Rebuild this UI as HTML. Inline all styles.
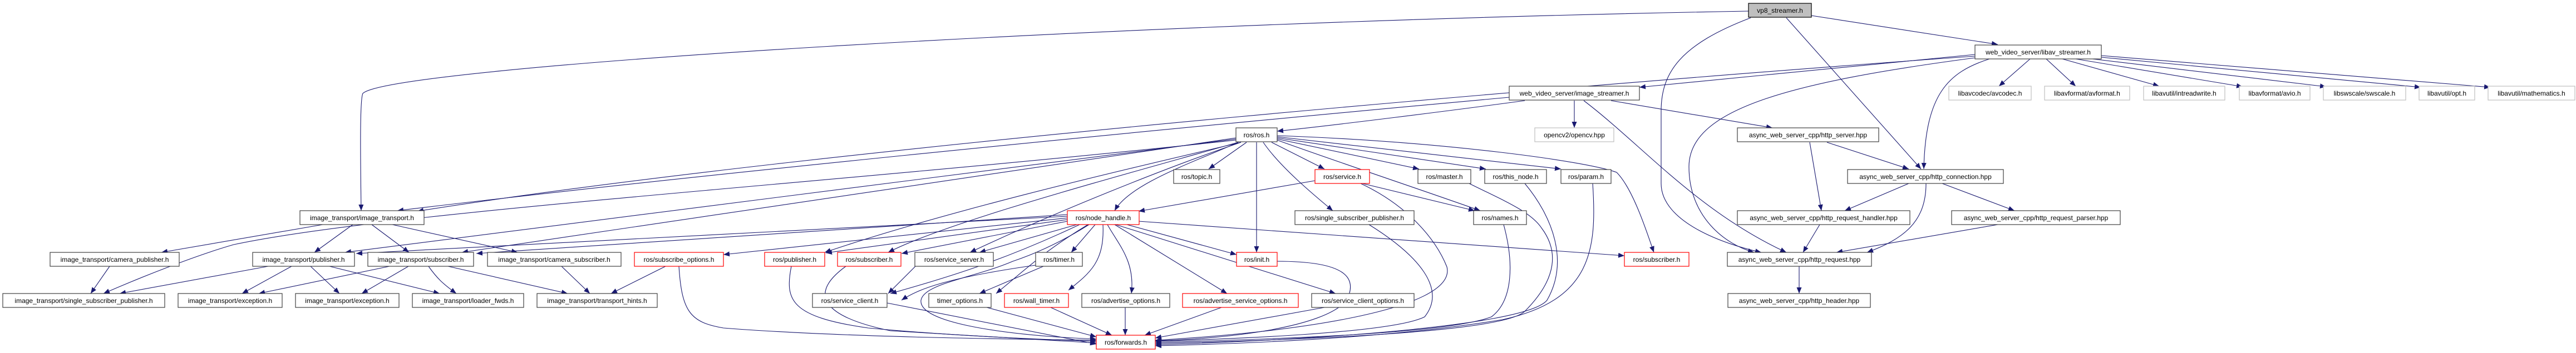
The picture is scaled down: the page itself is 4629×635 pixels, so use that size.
<!DOCTYPE html>
<html><head><meta charset="utf-8"><style>
html,body{margin:0;padding:0;background:#fff;}
svg{display:block;}
text{font-family:"Liberation Sans",Arial,sans-serif;font-size:12px;fill:#000;}
.e{fill:none;stroke:#191970;stroke-width:1.1;marker-end:url(#a);}
.n{fill:#fff;stroke:#404040;stroke-width:1.2;}
.r{fill:#fff;stroke:#ff0000;stroke-width:1.2;}
.g{fill:#fff;stroke:#bfbfbf;stroke-width:1.2;}
</style></head><body>
<svg width="4629" height="635" viewBox="0 0 4629 635" xmlns="http://www.w3.org/2000/svg">
<defs><marker id="a" markerUnits="userSpaceOnUse" markerWidth="12" markerHeight="9" refX="11" refY="4.5" orient="auto"><path d="M0,0 L11,4.5 L0,9 z" fill="#191970"/></marker></defs>
<g>
<!-- top edges -->
<path class="e" d="M3142,20 C2000,40 700,120 652,168 C646,180 648,300 649,379"/>
<path class="e" d="M3255,28 L3590,80"/>
<path class="e" d="M3210,32 L3452,304"/>
<path class="e" d="M3146,32 C3020,80 2985,130 2985,200 L2985,330 C2985,400 3100,440 3165,454"/>
<path class="e" d="M3549,98 L2946,157"/>
<path class="e" d="M3549,101 C3000,140 1500,260 750,380"/>
<path class="e" d="M3648,106 L3592,155"/>
<path class="e" d="M3677,106 L3730,155"/>
<path class="e" d="M3706,106 L3880,155"/>
<path class="e" d="M3730,106 L4030,156"/>
<path class="e" d="M3760,106 L4180,156"/>
<path class="e" d="M3776,103 L4350,157"/>
<path class="e" d="M3776,100 L4475,157"/>
<path class="e" d="M3575,106 C3500,130 3460,170 3457,304"/>
<path class="e" d="M3549,104 C3200,150 3035,200 3035,300 C3035,390 3100,440 3152,454"/>
<!-- image_streamer -->
<path class="e" d="M2829,181 L2829,230"/>
<path class="e" d="M2895,181 L3185,230"/>
<path class="e" d="M2846,181 C2950,260 3050,380 3210,454"/>
<path class="e" d="M2740,181 C2600,200 2400,225 2295,236"/>
<path class="e" d="M2712,175 C2000,240 1200,320 714,379"/>
<!-- async -->
<path class="e" d="M3283,256 L3430,304"/>
<path class="e" d="M3252,256 L3273,379"/>
<path class="e" d="M3430,330 L3315,379"/>
<path class="e" d="M3490,330 L3620,379"/>
<path class="e" d="M3461,330 C3461,400 3420,430 3355,454"/>
<path class="e" d="M3270,404 L3240,454"/>
<path class="e" d="M3590,404 L3300,454"/>
<path class="e" d="M3233,479 L3233,528"/>
<!-- ros.h -->
<path class="e" d="M2240,256 L2172,304"/>
<path class="e" d="M2225,256 C2150,290 2030,330 2003,379"/>
<path class="e" d="M2258,256 L2258,454"/>
<path class="e" d="M2285,256 L2380,304"/>
<path class="e" d="M2270,256 C2300,300 2360,350 2395,379"/>
<path class="e" d="M2295,250 L2550,304"/>
<path class="e" d="M2295,248 L2670,304"/>
<path class="e" d="M2295,246 L2805,304"/>
<path class="e" d="M2295,252 C2400,290 2550,340 2660,379"/>
<path class="e" d="M2295,244 C2600,255 2850,290 2905,310 C2935,340 2960,420 2972,454"/>
<path class="e" d="M2221,250 L620,454"/>
<path class="e" d="M2221,248 L830,454"/>
<path class="e" d="M2221,252 C1500,330 700,380 420,440 C350,460 250,500 186,528"/>
<path class="e" d="M2230,256 C2000,310 1700,380 1482,454"/>
<path class="e" d="M2225,256 C2000,320 1700,400 1596,454"/>
<path class="e" d="M2230,256 C2100,300 1900,380 1743,454"/>
<!-- image_transport -->
<path class="e" d="M580,404 L290,454"/>
<path class="e" d="M634,404 L565,454"/>
<path class="e" d="M668,404 L735,454"/>
<path class="e" d="M705,404 L930,454"/>
<path class="e" d="M197,479 L163,528"/>
<path class="e" d="M482,479 L215,528"/>
<path class="e" d="M524,479 L435,528"/>
<path class="e" d="M558,479 L610,528"/>
<path class="e" d="M592,479 L790,528"/>
<path class="e" d="M700,479 L465,528"/>
<path class="e" d="M734,479 L650,528"/>
<path class="e" d="M770,479 C785,500 795,510 820,528"/>
<path class="e" d="M805,479 L1020,528"/>
<path class="e" d="M1009,479 L1060,528"/>
<path class="e" d="M1196,479 L1098,528"/>
<path class="e" d="M1220,479 C1225,560 1240,580 1300,590 C1500,606 1800,610 1970,612"/>
<path class="e" d="M1422,479 C1410,540 1420,570 1560,590 C1700,603 1850,610 1970,614"/>
<path class="e" d="M1520,479 C1450,530 1480,570 1600,595 L1970,617"/>
<path class="e" d="M1645,479 L1596,528"/>
<path class="e" d="M1594,545 L1970,619"/>
<path class="e" d="M1875,479 L1760,528"/>
<path class="e" d="M1861,477 C1700,500 1650,520 1620,540"/>
<path class="e" d="M1773,553 L1970,606"/>
<path class="e" d="M1888,553 L1998,603"/>
<path class="e" d="M2022,553 L2022,603"/>
<path class="e" d="M2195,553 L2057,603"/>
<path class="e" d="M2380,553 L2076,608"/>
<!-- node_handle -->
<path class="e" d="M1957,404 C1900,440 1850,460 1820,470 C1750,500 1660,510 1655,540 C1650,580 1800,603 1970,610"/>
<path class="e" d="M1968,404 L1925,454"/>
<path class="e" d="M1982,404 C1985,470 1960,490 1920,522"/>
<path class="e" d="M1955,404 C1880,450 1860,470 1790,528"/>
<path class="e" d="M1990,404 C2010,440 2040,470 2033,528"/>
<path class="e" d="M2003,404 L2205,528"/>
<path class="e" d="M2005,404 L2400,528"/>
<path class="e" d="M2025,404 L2222,458"/>
<path class="e" d="M2046,398 L2919,460"/>
<path class="e" d="M1935,404 L1760,454"/>
<path class="e" d="M1918,398 L1620,456"/>
<path class="e" d="M1918,395 L1484,455"/>
<path class="e" d="M1918,392 L1300,458"/>
<path class="e" d="M1918,389 L640,456"/>
<path class="e" d="M1918,386 L856,456"/>
<path class="e" d="M1940,404 C1800,470 1700,500 1600,528"/>
<!-- into forwards from right -->
<path class="e" d="M2363,325 L2046,380"/>
<path class="e" d="M2448,330 L2650,379"/>
<path class="e" d="M2445,330 C2530,370 2580,430 2600,480 C2620,560 2300,600 2076,612"/>
<path class="e" d="M2460,404 C2550,460 2600,520 2560,570 C2500,600 2200,610 2076,614"/>
<path class="e" d="M2702,404 C2720,470 2720,540 2680,570 C2600,600 2300,610 2076,616"/>
<path class="e" d="M2640,330 C2700,360 2750,380 2770,410 C2800,450 2800,500 2740,560 C2700,600 2300,612 2076,618"/>
<path class="e" d="M2740,330 C2790,390 2820,470 2780,540 C2740,590 2300,614 2076,620"/>
<path class="e" d="M2862,330 C2870,450 2860,540 2700,575 C2500,608 2250,618 2076,622"/>
<path class="e" d="M2295,470 C2420,470 2440,500 2420,540 C2380,590 2200,610 2076,613"/>
</g>
<g>
<rect x="3142" y="6" width="113" height="25" fill="#bfbfbf" stroke="#000" stroke-width="1.2"/><text x="3198.5" y="23" text-anchor="middle">vp8_streamer.h</text>
<rect class="n" x="3549" y="81" width="227" height="25"/><text x="3662.5" y="98" text-anchor="middle">web_video_server/libav_streamer.h</text>
<rect class="n" x="2712" y="155" width="234" height="25"/><text x="2829" y="172" text-anchor="middle">web_video_server/image_streamer.h</text>
<rect class="g" x="3502" y="155" width="148" height="25"/><text x="3576" y="172" text-anchor="middle">libavcodec/avcodec.h</text>
<rect class="g" x="3674" y="155" width="153" height="25"/><text x="3750.5" y="172" text-anchor="middle">libavformat/avformat.h</text>
<rect class="g" x="3852" y="155" width="146" height="25"/><text x="3925" y="172" text-anchor="middle">libavutil/intreadwrite.h</text>
<rect class="g" x="4024" y="155" width="127" height="25"/><text x="4087.5" y="172" text-anchor="middle">libavformat/avio.h</text>
<rect class="g" x="4175" y="155" width="148" height="25"/><text x="4249" y="172" text-anchor="middle">libswscale/swscale.h</text>
<rect class="g" x="4347" y="155" width="100" height="25"/><text x="4397" y="172" text-anchor="middle">libavutil/opt.h</text>
<rect class="g" x="4471" y="155" width="156" height="25"/><text x="4549" y="172" text-anchor="middle">libavutil/mathematics.h</text>
<rect class="n" x="2221" y="230" width="74" height="25"/><text x="2258" y="247" text-anchor="middle">ros/ros.h</text>
<rect class="g" x="2758" y="230" width="142" height="25"/><text x="2829" y="247" text-anchor="middle">opencv2/opencv.hpp</text>
<rect class="n" x="3122" y="230" width="254" height="25"/><text x="3249" y="247" text-anchor="middle">async_web_server_cpp/http_server.hpp</text>
<rect class="n" x="2109" y="305" width="83" height="25"/><text x="2150.5" y="322" text-anchor="middle">ros/topic.h</text>
<rect class="r" x="2363" y="305" width="98" height="25"/><text x="2412" y="322" text-anchor="middle">ros/service.h</text>
<rect class="n" x="2548" y="305" width="95" height="25"/><text x="2595.5" y="322" text-anchor="middle">ros/master.h</text>
<rect class="n" x="2668" y="305" width="111" height="25"/><text x="2723.5" y="322" text-anchor="middle">ros/this_node.h</text>
<rect class="n" x="2805" y="305" width="90" height="25"/><text x="2850" y="322" text-anchor="middle">ros/param.h</text>
<rect class="n" x="3320" y="305" width="280" height="25"/><text x="3460" y="322" text-anchor="middle">async_web_server_cpp/http_connection.hpp</text>
<rect class="n" x="539" y="379" width="223" height="25"/><text x="650.5" y="396" text-anchor="middle">image_transport/image_transport.h</text>
<rect class="r" x="1918" y="379" width="129" height="25"/><text x="1982.5" y="396" text-anchor="middle">ros/node_handle.h</text>
<rect class="n" x="2327" y="379" width="214" height="25"/><text x="2434" y="396" text-anchor="middle">ros/single_subscriber_publisher.h</text>
<rect class="n" x="2648" y="379" width="95" height="25"/><text x="2695.5" y="396" text-anchor="middle">ros/names.h</text>
<rect class="n" x="3122" y="379" width="310" height="25"/><text x="3277" y="396" text-anchor="middle">async_web_server_cpp/http_request_handler.hpp</text>
<rect class="n" x="3507" y="379" width="303" height="25"/><text x="3658.5" y="396" text-anchor="middle">async_web_server_cpp/http_request_parser.hpp</text>
<rect class="n" x="90" y="454" width="232" height="25"/><text x="206" y="471" text-anchor="middle">image_transport/camera_publisher.h</text>
<rect class="n" x="454" y="454" width="183" height="25"/><text x="545.5" y="471" text-anchor="middle">image_transport/publisher.h</text>
<rect class="n" x="661" y="454" width="190" height="25"/><text x="756" y="471" text-anchor="middle">image_transport/subscriber.h</text>
<rect class="n" x="876" y="454" width="240" height="25"/><text x="996" y="471" text-anchor="middle">image_transport/camera_subscriber.h</text>
<rect class="r" x="1140" y="454" width="160" height="25"/><text x="1220" y="471" text-anchor="middle">ros/subscribe_options.h</text>
<rect class="r" x="1374" y="454" width="108" height="25"/><text x="1428" y="471" text-anchor="middle">ros/publisher.h</text>
<rect class="r" x="1505" y="454" width="114" height="25"/><text x="1562" y="471" text-anchor="middle">ros/subscriber.h</text>
<rect class="n" x="1644" y="454" width="141" height="25"/><text x="1714.5" y="471" text-anchor="middle">ros/service_server.h</text>
<rect class="n" x="1861" y="454" width="84" height="25"/><text x="1903" y="471" text-anchor="middle">ros/timer.h</text>
<rect class="r" x="2222" y="454" width="73" height="25"/><text x="2258.5" y="471" text-anchor="middle">ros/init.h</text>
<rect class="r" x="2919" y="454" width="116" height="25"/><text x="2977" y="471" text-anchor="middle">ros/subscriber.h</text>
<rect class="n" x="3104" y="454" width="259" height="25"/><text x="3233.5" y="471" text-anchor="middle">async_web_server_cpp/http_request.hpp</text>
<rect class="n" x="5" y="528" width="291" height="25"/><text x="150.5" y="545" text-anchor="middle">image_transport/single_subscriber_publisher.h</text>
<rect class="n" x="320" y="528" width="187" height="25"/><text x="413.5" y="545" text-anchor="middle">image_transport/exception.h</text>
<rect class="n" x="531" y="528" width="186" height="25"/><text x="624" y="545" text-anchor="middle">image_transport/exception.h</text>
<rect class="n" x="741" y="528" width="200" height="25"/><text x="841" y="545" text-anchor="middle">image_transport/loader_fwds.h</text>
<rect class="n" x="965" y="528" width="216" height="25"/><text x="1073" y="545" text-anchor="middle">image_transport/transport_hints.h</text>
<rect class="n" x="1460" y="528" width="134" height="25"/><text x="1527" y="545" text-anchor="middle">ros/service_client.h</text>
<rect class="n" x="1669" y="528" width="112" height="25"/><text x="1725" y="545" text-anchor="middle">timer_options.h</text>
<rect class="r" x="1805" y="528" width="115" height="25"/><text x="1862.5" y="545" text-anchor="middle">ros/wall_timer.h</text>
<rect class="n" x="1944" y="528" width="158" height="25"/><text x="2023" y="545" text-anchor="middle">ros/advertise_options.h</text>
<rect class="r" x="2125" y="528" width="208" height="25"/><text x="2229" y="545" text-anchor="middle">ros/advertise_service_options.h</text>
<rect class="n" x="2357" y="528" width="184" height="25"/><text x="2449" y="545" text-anchor="middle">ros/service_client_options.h</text>
<rect class="n" x="3105" y="528" width="256" height="25"/><text x="3233" y="545" text-anchor="middle">async_web_server_cpp/http_header.hpp</text>
<rect class="r" x="1970" y="603" width="106" height="25"/><text x="2023" y="620" text-anchor="middle">ros/forwards.h</text>
</g>
</svg>
</body></html>
